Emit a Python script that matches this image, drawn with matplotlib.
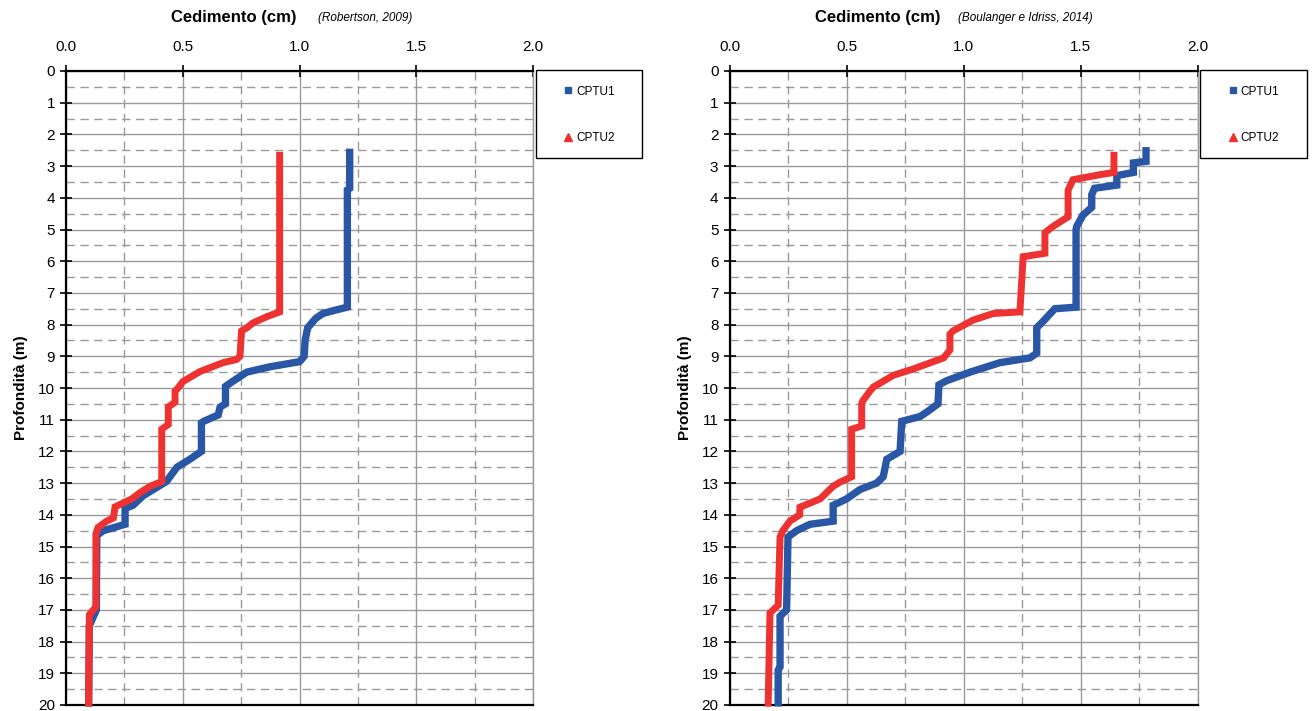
import matplotlib
matplotlib.use("Agg")
import matplotlib.pyplot as plt
from matplotlib.lines import Line2D
from matplotlib.patches import Rectangle
from matplotlib.ticker import MultipleLocator

plt.rcParams['font.family'] = ['Liberation Sans', 'DejaVu Sans']

# ---- data: Robertson (2009) ----
rob_cptu1_depth = [2.45, 3.7, 3.75, 7.45, 7.55, 7.65, 7.8, 8.1, 8.5, 9.0, 9.17, 9.33, 9.5,
                   9.85, 9.95, 10.5, 10.6, 10.85, 11.05, 11.1, 12.0, 12.25, 12.5, 12.95,
                   13.4, 13.7, 13.8, 14.3, 14.5, 14.65, 17.0, 17.5, 20.05]
rob_cptu1_val = [1.215, 1.215, 1.205, 1.205, 1.15, 1.10, 1.07, 1.035, 1.024, 1.02, 1.0, 0.874, 0.774,
                 0.702, 0.683, 0.683, 0.66, 0.652, 0.59, 0.58, 0.58, 0.53, 0.475, 0.43,
                 0.33, 0.287, 0.253, 0.253, 0.16, 0.132, 0.13, 0.10, 0.097]
rob_cptu2_depth = [2.55, 7.6, 7.75, 7.95, 8.1, 8.2, 9.0, 9.1, 9.2, 9.48, 9.8, 10.0, 10.1,
                   10.45, 10.6, 11.15, 11.3, 12.95, 13.1, 13.3, 13.5, 13.75, 14.1, 14.2,
                   14.4, 14.6, 16.9, 17.15, 20.05]
rob_cptu2_val = [0.915, 0.915, 0.86, 0.80, 0.775, 0.752, 0.745, 0.731, 0.673, 0.574, 0.50, 0.48, 0.467,
                 0.467, 0.438, 0.438, 0.41, 0.41, 0.36, 0.317, 0.281, 0.21, 0.203, 0.174,
                 0.137, 0.128, 0.128, 0.10, 0.097]

# ---- data: Boulanger e Idriss (2014) ----
bi_cptu1_depth = [2.4, 2.85, 2.9, 3.2, 3.3, 3.6, 3.7, 3.9, 4.3, 4.55, 4.9, 5.0, 7.45, 7.5,
                  7.9, 8.1, 8.9, 9.05, 9.2, 9.5, 9.77, 9.9, 10.5, 10.75, 10.9, 11.05, 12.0,
                  12.25, 12.8, 13.0, 13.2, 13.5, 13.7, 14.2, 14.3, 14.5, 14.7, 17.0, 17.2,
                  18.8, 18.9, 20.05]
bi_cptu1_val = [1.78, 1.78, 1.726, 1.726, 1.655, 1.655, 1.56, 1.548, 1.548, 1.51, 1.484, 1.481, 1.481, 1.39,
                1.34, 1.313, 1.313, 1.284, 1.156, 1.028, 0.928, 0.895, 0.891, 0.845, 0.814, 0.736, 0.729,
                0.672, 0.657, 0.629, 0.558, 0.50, 0.443, 0.443, 0.344, 0.287, 0.25, 0.244, 0.216,
                0.216, 0.208, 0.208]
bi_cptu2_depth = [2.55, 3.2, 3.27, 3.43, 3.76, 4.6, 4.9, 5.1, 5.75, 5.86, 7.6, 7.65, 7.86,
                  8.2, 8.3, 8.8, 9.05, 9.4, 9.6, 9.97, 10.1, 10.4, 10.5, 11.2, 11.3, 12.8,
                  12.97, 13.1, 13.5, 13.76, 14.0, 14.2, 14.5, 14.7, 16.85, 17.1, 20.05]
bi_cptu2_val = [1.643, 1.643, 1.583, 1.468, 1.447, 1.447, 1.383, 1.348, 1.348, 1.255, 1.241, 1.127, 1.04,
                0.955, 0.942, 0.942, 0.915, 0.785, 0.70, 0.615, 0.60, 0.57, 0.565, 0.565, 0.522, 0.522,
                0.472, 0.443, 0.387, 0.301, 0.30, 0.258, 0.228, 0.216, 0.208, 0.173, 0.165]

series_labels = ['CPTU1', 'CPTU2']
x_ticks = [0.0, 0.5, 1.0, 1.5, 2.0]
y_ticks = list(range(0, 21))
titles = ['(Robertson, 2009)', '(Boulanger e Idriss, 2014)']

BLUE = '#2A56A6'
RED = '#EE3131'
GRID = '#9A9A9A'

fig = plt.figure(figsize=(13.13, 7.11), dpi=100)
ax1 = fig.add_axes([66 / 1313, 6 / 711, 467 / 1313, 634 / 711])
ax2 = fig.add_axes([729.5 / 1313, 6 / 711, 468 / 1313, 634 / 711])

panels = [
    (ax1, rob_cptu1_depth, rob_cptu1_val, rob_cptu2_depth, rob_cptu2_val, titles[0], 0.4946, 0.5396),
    (ax2, bi_cptu1_depth, bi_cptu1_val, bi_cptu2_depth, bi_cptu2_val, titles[1], 0.4498, 0.488),
]

for ax, d1, v1, d2, v2, sub, xt1, xt2 in panels:
    ax.plot(v1, d1, color=BLUE, lw=5.3, solid_capstyle='butt', solid_joinstyle='miter', zorder=3, clip_on=False)
    ax.plot(v2, d2, color=RED, lw=5.0, solid_capstyle='butt', solid_joinstyle='miter', zorder=4, clip_on=False)
    ax.set_xlim(0, 2.0)
    ax.set_ylim(20, 0)
    ax.xaxis.set_major_locator(MultipleLocator(0.5))
    ax.xaxis.set_minor_locator(MultipleLocator(0.25))
    ax.yaxis.set_major_locator(MultipleLocator(1))
    ax.yaxis.set_minor_locator(MultipleLocator(0.5))
    ax.set_xticks(x_ticks)
    ax.set_xticklabels([f'{t:.1f}' for t in x_ticks])
    ax.set_yticks(y_ticks)
    ax.set_yticklabels([str(t) for t in y_ticks])
    ax.xaxis.tick_top()
    ax.tick_params(axis='x', which='major', direction='inout', length=9, width=1.2,
                   labelsize=11, pad=8, color='black')
    ax.tick_params(axis='y', which='major', direction='inout', length=8, width=1.2,
                   labelsize=11, pad=4, color='black')
    ax.tick_params(which='minor', length=0)
    ax.grid(True, which='major', color=GRID, lw=1.0, ls='-', zorder=0)
    ax.grid(True, which='minor', color=GRID, lw=1.0, ls=(0, (6, 4)), zorder=0)
    ax.set_axisbelow(True)
    for s in ['left', 'top', 'bottom']:
        ax.spines[s].set_color('black')
        ax.spines[s].set_linewidth(1.6)
    ax.spines['right'].set_color(GRID)
    ax.spines['right'].set_linewidth(1.0)

    ax.text(xt1, 1.0836, 'Cedimento (cm)', transform=ax.transAxes, ha='right', va='center',
            fontsize=12, fontweight='bold')
    ax.text(xt2, 1.0836, sub, transform=ax.transAxes, ha='left', va='center',
            fontsize=8.5, fontstyle='italic')

    # legend box
    rect = Rectangle((1.006, 0.862), 0.228, 0.139, transform=ax.transAxes, facecolor='white',
                     edgecolor='black', lw=1.0, clip_on=False, zorder=5)
    ax.add_patch(rect)
    handles = [Line2D([], [], ls='none', marker='s', ms=5, color=BLUE),
               Line2D([], [], ls='none', marker='^', ms=6, color=RED)]
    leg = ax.legend(handles, series_labels, loc='center', bbox_to_anchor=(1.12, 0.931),
                    frameon=False, fontsize=8.5, labelspacing=2.9, handlelength=0.8,
                    handletextpad=0.3, borderaxespad=0)
    leg.set_zorder(6)

ax1.set_ylabel('Profondità (m)', fontsize=11, fontweight='bold', labelpad=7)
ax2.set_ylabel('Profondità (m)', fontsize=11, fontweight='bold', labelpad=7)

fig.savefig('out.png', dpi=100)
